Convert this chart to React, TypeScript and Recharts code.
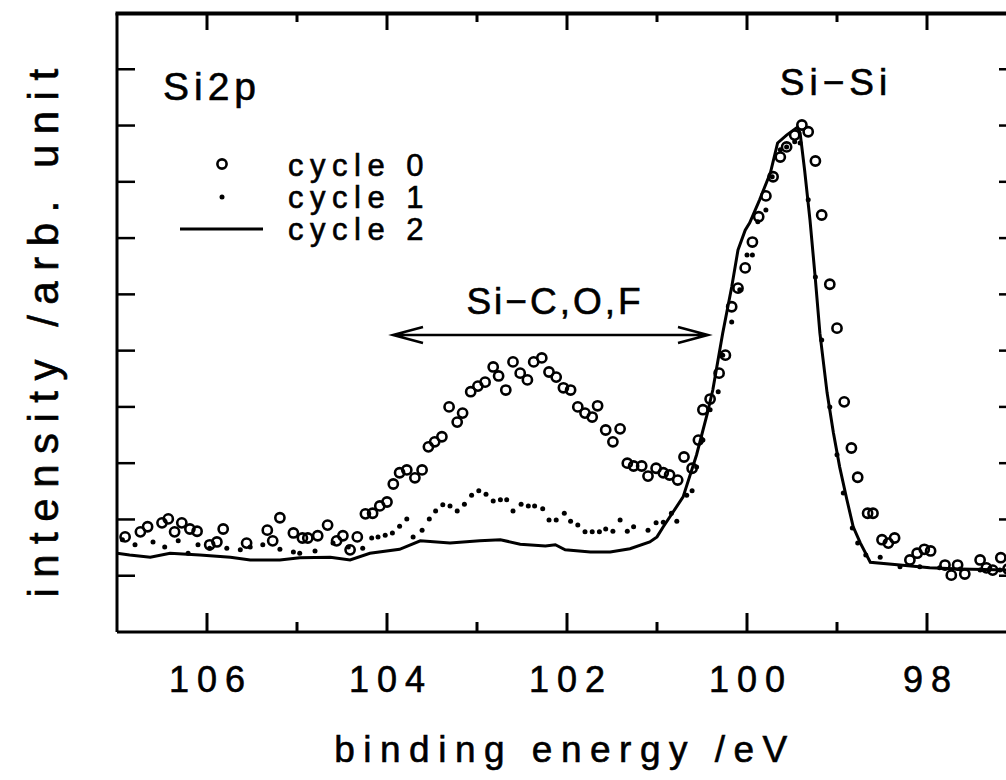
import React from 'react';
import { ComposedChart, Customized, Line, Scatter, XAxis, YAxis } from 'recharts';

const FONT = '"Liberation Sans", Arial, Helvetica, sans-serif';

// binding energy (eV) ticks, every 1 eV, labels every 2 eV
const energyTicks = [106, 105, 104, 103, 102, 101, 100, 99, 98];
const labelledTicks = [106, 104, 102, 100, 98];
const intensityTicks = [1, 2, 3, 4, 5, 6, 7, 8, 9, 10];

// [binding energy eV, intensity arb.]
const cycle0Points: [number, number][] = [
  [106.91, 1.69], [106.74, 1.78], [106.66, 1.87], [106.5, 1.94], [106.43, 2.01], [106.36, 1.78],
  [106.28, 1.94], [106.19, 1.83], [106.11, 1.79], [105.97, 1.55], [105.89, 1.6], [105.82, 1.83],
  [105.56, 1.58], [105.33, 1.81], [105.27, 1.62], [105.19, 2.03], [105.04, 1.76], [104.94, 1.67],
  [104.88, 1.67], [104.77, 1.71], [104.66, 1.9], [104.56, 1.62], [104.49, 1.71], [104.41, 1.46],
  [104.33, 1.69], [104.24, 2.1], [104.16, 2.11], [104.08, 2.24], [104.0, 2.31], [103.93, 2.63],
  [103.86, 2.83], [103.78, 2.88], [103.69, 2.74], [103.61, 2.88], [103.54, 3.29], [103.47, 3.38],
  [103.39, 3.47], [103.31, 4.0], [103.22, 3.73], [103.16, 3.89], [103.07, 4.27], [102.99, 4.37],
  [102.91, 4.44], [102.82, 4.71], [102.76, 4.55], [102.68, 4.3], [102.6, 4.8], [102.52, 4.6],
  [102.44, 4.48], [102.37, 4.8], [102.28, 4.87], [102.2, 4.62], [102.12, 4.53], [102.04, 4.34],
  [101.96, 4.3], [101.88, 4.0], [101.8, 3.89], [101.72, 3.82], [101.66, 4.02], [101.57, 3.59],
  [101.49, 3.38], [101.41, 3.61], [101.33, 3.0], [101.26, 2.95], [101.17, 2.95], [101.1, 2.77],
  [101.01, 2.91], [100.93, 2.83], [100.86, 2.79], [100.77, 2.7], [100.7, 3.11], [100.61, 2.91],
  [100.54, 3.41], [100.49, 3.95], [100.41, 4.14], [100.31, 4.6], [100.24, 4.92], [100.17, 5.78],
  [100.1, 6.11], [100.02, 6.47], [99.94, 6.93], [99.87, 7.38], [99.79, 7.75], [99.71, 8.09],
  [99.63, 8.44], [99.56, 8.62], [99.47, 8.83], [99.39, 9.01], [99.32, 8.89], [99.24, 8.37],
  [99.17, 7.41], [99.08, 6.18], [99.0, 5.4], [98.92, 4.09], [98.84, 3.27], [98.77, 2.75],
  [98.66, 2.11], [98.6, 2.11], [98.5, 1.64], [98.43, 1.58], [98.36, 1.67], [98.19, 1.28],
  [98.11, 1.4], [98.03, 1.47], [97.96, 1.44], [97.8, 1.19], [97.73, 1.01], [97.66, 1.19],
  [97.58, 1.03], [97.41, 1.28], [97.34, 1.14], [97.27, 1.1], [97.18, 1.32], [97.1, 1.12],
];

const cycle1Points: [number, number][] = [
  [106.94, 1.64], [106.8, 1.55], [106.6, 1.6], [106.47, 1.51], [106.32, 1.62], [106.21, 1.4],
  [106.1, 1.55], [105.97, 1.49], [105.78, 1.49], [105.63, 1.46], [105.52, 1.51], [105.38, 1.55],
  [105.19, 1.47], [105.04, 1.42], [104.97, 1.4], [104.8, 1.44], [104.6, 1.58], [104.43, 1.51],
  [104.27, 1.49], [104.17, 1.67], [104.1, 1.69], [104.02, 1.72], [103.94, 1.76], [103.86, 1.88],
  [103.78, 2.01], [103.71, 1.69], [103.61, 1.81], [103.53, 2.01], [103.46, 2.15], [103.38, 2.26],
  [103.3, 2.24], [103.22, 2.15], [103.14, 2.27], [103.06, 2.43], [102.98, 2.51], [102.9, 2.45],
  [102.82, 2.33], [102.74, 2.35], [102.67, 2.35], [102.6, 2.15], [102.51, 2.27], [102.43, 2.24],
  [102.36, 2.24], [102.27, 2.19], [102.2, 1.99], [102.12, 1.99], [102.03, 2.11], [101.96, 1.97],
  [101.88, 1.9], [101.8, 1.78], [101.72, 1.78], [101.64, 1.78], [101.57, 1.83], [101.49, 1.79],
  [101.41, 1.99], [101.33, 1.79], [101.26, 1.87], [101.1, 1.81], [101.01, 1.94], [100.93, 1.95],
  [100.84, 2.11], [100.78, 1.97], [100.67, 2.43], [100.61, 2.51], [100.56, 2.93], [100.49, 3.41],
  [100.41, 3.95], [100.32, 4.27], [100.27, 4.92], [100.17, 5.51], [100.08, 6.08], [100.0, 6.7],
  [99.94, 6.7], [99.88, 7.29], [99.79, 7.5], [99.72, 8.09], [99.63, 8.57], [99.56, 8.62],
  [99.47, 8.71], [99.41, 8.69], [99.32, 7.68], [99.24, 6.31], [99.17, 5.19], [99.08, 4.0],
  [99.0, 3.15], [98.93, 2.47], [98.83, 1.85], [98.77, 1.58], [98.68, 1.37], [98.52, 1.33],
  [98.3, 1.16], [98.08, 1.16], [97.86, 1.14], [97.63, 1.12], [97.41, 1.1], [97.19, 1.1],
];

const cycle2Points: [number, number][] = [
  [107.0, 1.4], [106.86, 1.37], [106.63, 1.33], [106.41, 1.4], [106.08, 1.37], [105.74, 1.33],
  [105.52, 1.28], [105.19, 1.28], [104.97, 1.32], [104.63, 1.33], [104.41, 1.28], [104.19, 1.4],
  [103.86, 1.47], [103.63, 1.62], [103.3, 1.58], [102.97, 1.62], [102.74, 1.64], [102.52, 1.56],
  [102.24, 1.53], [102.13, 1.55], [102.02, 1.46], [101.74, 1.42], [101.52, 1.42], [101.3, 1.48],
  [101.08, 1.6], [101.0, 1.69], [100.93, 1.87], [100.71, 2.4], [100.56, 3.15], [100.44, 3.89],
  [100.38, 4.3], [100.27, 5.31], [100.17, 6.13], [100.1, 6.79], [100.02, 7.14], [99.97, 7.27],
  [99.86, 7.68], [99.74, 8.16], [99.66, 8.69], [99.56, 8.83], [99.44, 8.97], [99.41, 8.87],
  [99.36, 8.21], [99.3, 7.32], [99.24, 6.26], [99.19, 5.31], [99.11, 4.25], [99.04, 3.54],
  [98.97, 2.93], [98.89, 2.35], [98.82, 1.87], [98.74, 1.58], [98.63, 1.24], [98.3, 1.19],
  [97.97, 1.14], [97.63, 1.12], [97.12, 1.1], [97.0, 1.1],
];

const toRows = (pts: [number, number][]) => pts.map(([e, v]) => ({ e, v }));

// plot box in page pixels
const PLOT = { left: 117, top: 13, right: 1017, bottom: 632 };

const OpenCircle = (p: any) => (
  <circle cx={p.cx} cy={p.cy} r={4.6} fill="none" stroke="#000" strokeWidth={2.6} />
);
const SmallDot = (p: any) => <circle cx={p.cx} cy={p.cy} r={2.5} fill="#000" />;

const txt = { fontFamily: FONT, fill: '#000', stroke: '#000', strokeWidth: 0.6 };

// bottom axis tick: inward tick on the bottom and on the top frame, label under the major ones
const EnergyTick = (p: any) => {
  const major = labelledTicks.includes(p.payload.value);
  return (
    <g>
      <line x1={p.x} x2={p.x} y1={PLOT.bottom} y2={PLOT.bottom - (major ? 19 : 10)} stroke="#000" strokeWidth={3} />
      <line x1={p.x} x2={p.x} y1={PLOT.top} y2={PLOT.top + (major ? 17 : 9)} stroke="#000" strokeWidth={3} />
      {major && (
        <text x={p.x + 4} y={692} textAnchor="middle" fontSize={36} letterSpacing={8} {...txt}>
          {p.payload.value}
        </text>
      )}
    </g>
  );
};

const LeftTick = (p: any) => (
  <line x1={PLOT.left} x2={PLOT.left + 18} y1={p.y} y2={p.y} stroke="#000" strokeWidth={2.5} />
);
const RightTick = (p: any) => (
  <line x1={PLOT.right} x2={PLOT.right - 18} y1={p.y} y2={p.y} stroke="#000" strokeWidth={2.5} />
);

const Annotations = () => (
  <g>
    <rect x={PLOT.left - 1.5} y={PLOT.top - 1.5} width={PLOT.right - PLOT.left + 3} height={4} fill="#000" />
    <text x={163} y={100} fontSize={39} letterSpacing={5} {...txt}>Si2p</text>
    <circle cx={222} cy={164} r={4.6} fill="none" stroke="#000" strokeWidth={2.6} />
    <text x={288} y={176} fontSize={31} letterSpacing={6.5} {...txt}>cycle 0</text>
    <circle cx={222} cy={197} r={2.5} fill="#000" />
    <text x={288} y={208} fontSize={31} letterSpacing={6.5} {...txt}>cycle 1</text>
    <line x1={180} x2={263} y1={229} y2={229} stroke="#000" strokeWidth={3} />
    <text x={288} y={240} fontSize={31} letterSpacing={6.5} {...txt}>cycle 2</text>
    <text x={836} y={95} textAnchor="middle" fontSize={37} letterSpacing={5} {...txt}>Si−Si</text>
    <text x={555} y={314} textAnchor="middle" fontSize={37} letterSpacing={3} {...txt}>Si−C,O,F</text>
    <path
      d="M393 335 H708 M423 327 L393 335 L423 343 M678 327 L708 335 L678 343"
      stroke="#000"
      strokeWidth={2.5}
      fill="none"
    />
    <text x={565} y={762} textAnchor="middle" fontSize={37} letterSpacing={8.5} {...txt}>binding energy /eV</text>
    <text transform="translate(58,328) rotate(-90)" textAnchor="middle" fontSize={42} letterSpacing={10.5} {...txt}>
      intensity /arb. unit
    </text>
  </g>
);

const frame = { stroke: '#000', strokeWidth: 3 };

export default function App() {
  return (
    <div style={{ position: 'absolute', left: 0, top: 0, width: 1006, height: 780, overflow: 'hidden', background: '#fff' }}>
      <ComposedChart
        width={1030}
        height={780}
        margin={{ top: 13, right: 12, bottom: 147, left: 116 }}
        style={{ overflow: 'visible' }}
      >
        <XAxis
          dataKey="e"
          type="number"
          domain={[97, 107]}
          reversed
          allowDataOverflow
          ticks={energyTicks}
          interval={0}
          height={1}
          tickSize={0}
          tickLine={false}
          axisLine={frame}
          tick={EnergyTick}
        />
        <YAxis
          dataKey="v"
          type="number"
          domain={[0, 11]}
          allowDataOverflow
          ticks={intensityTicks}
          interval={0}
          width={1}
          tickSize={0}
          tickLine={false}
          axisLine={frame}
          tick={LeftTick}
        />
        <YAxis
          yAxisId="right"
          orientation="right"
          dataKey="v"
          type="number"
          domain={[0, 11]}
          allowDataOverflow
          ticks={intensityTicks}
          interval={0}
          width={1}
          tickSize={0}
          tickLine={false}
          axisLine={frame}
          tick={RightTick}
        />
        <Line
          data={toRows(cycle2Points)}
          dataKey="v"
          type="linear"
          stroke="#000"
          strokeWidth={3}
          dot={false}
          isAnimationActive={false}
        />
        <Scatter data={toRows(cycle1Points)} dataKey="v" shape={SmallDot} isAnimationActive={false} />
        <Scatter data={toRows(cycle0Points)} dataKey="v" shape={OpenCircle} isAnimationActive={false} />
        <Customized component={Annotations} />
      </ComposedChart>
    </div>
  );
}
